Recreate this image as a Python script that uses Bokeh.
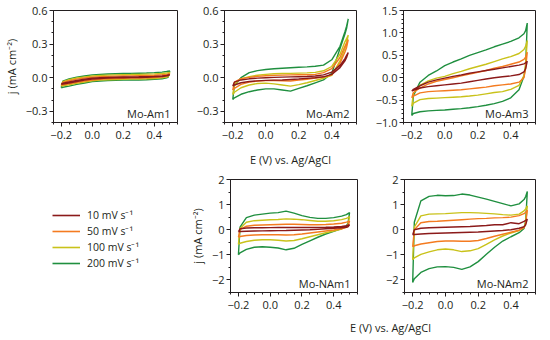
from bokeh.plotting import figure
from bokeh.layouts import column, row
from bokeh.models import Range1d, FixedTicker, CustomJSTickFormatter, Label, Legend, LegendItem
from bokeh.embed import file_html
from bokeh.resources import INLINE

# ---------------- data ----------------
E = [-0.2, -0.19, -0.15, -0.1, -0.05, 0.0, 0.05, 0.1, 0.15, 0.2, 0.25, 0.3, 0.35, 0.4, 0.45, 0.48, 0.49, 0.5]
rates = ["10 mV s\u207b\u00b9", "50 mV s\u207b\u00b9", "100 mV s\u207b\u00b9", "200 mV s\u207b\u00b9"]
colors = ["#8b1a1a", "#f47b20", "#c9c21a", "#1f8f3f"]

# Mo-Am1 (anodic "up" and cathodic "dn" branches on the E grid)
am1_10_up = [-0.058, -0.05, -0.038, -0.024, -0.013, -0.005, 0.0, 0.003, 0.005, 0.006, 0.007, 0.008, 0.01, 0.012, 0.016, 0.021, 0.024, 0.027]
am1_10_dn = [-0.058, -0.056, -0.048, -0.034, -0.022, -0.013, -0.007, -0.003, -0.001, 0.0, 0.001, 0.002, 0.004, 0.007, 0.011, 0.016, 0.019, 0.027]
am1_50_up = [-0.065, -0.042, -0.027, -0.013, -0.003, 0.004, 0.009, 0.012, 0.014, 0.015, 0.016, 0.018, 0.02, 0.022, 0.026, 0.03, 0.033, 0.036]
am1_50_dn = [-0.065, -0.063, -0.055, -0.042, -0.03, -0.02, -0.014, -0.01, -0.007, -0.005, -0.004, -0.003, -0.001, 0.002, 0.008, 0.014, 0.018, 0.036]
am1_100_up = [-0.075, -0.035, -0.018, -0.003, 0.007, 0.015, 0.02, 0.023, 0.025, 0.027, 0.028, 0.03, 0.032, 0.034, 0.038, 0.042, 0.045, 0.047]
am1_100_dn = [-0.075, -0.072, -0.063, -0.05, -0.038, -0.027, -0.022, -0.018, -0.016, -0.014, -0.013, -0.012, -0.01, -0.007, -0.002, 0.005, 0.01, 0.047]
am1_200_up = [-0.09, -0.03, -0.01, 0.005, 0.015, 0.025, 0.03, 0.033, 0.035, 0.037, 0.038, 0.04, 0.042, 0.045, 0.05, 0.055, 0.058, 0.06]
am1_200_dn = [-0.09, -0.085, -0.075, -0.06, -0.047, -0.035, -0.03, -0.026, -0.024, -0.022, -0.021, -0.02, -0.018, -0.015, -0.01, -0.002, 0.005, 0.06]

# Mo-Am2
am2_10_up = [-0.075, -0.04, -0.02, -0.01, -0.004, 0.0, 0.003, 0.005, 0.007, 0.009, 0.011, 0.015, 0.025, 0.05, 0.11, 0.17, 0.2, 0.225]
am2_10_dn = [-0.075, -0.065, -0.045, -0.034, -0.028, -0.024, -0.022, -0.02, -0.016, -0.012, -0.006, 0.0, 0.008, 0.03, 0.09, 0.15, 0.18, 0.225]
am2_50_up = [-0.11, -0.04, -0.008, 0.003, 0.012, 0.018, 0.021, 0.023, 0.025, 0.026, 0.027, 0.03, 0.045, 0.08, 0.18, 0.28, 0.31, 0.34]
am2_50_dn = [-0.11, -0.095, -0.06, -0.04, -0.03, -0.026, -0.025, -0.027, -0.03, -0.022, -0.014, -0.003, 0.005, 0.025, 0.13, 0.23, 0.27, 0.34]
am2_100_up = [-0.15, -0.06, -0.01, 0.01, 0.022, 0.03, 0.035, 0.037, 0.039, 0.041, 0.043, 0.048, 0.062, 0.1, 0.21, 0.32, 0.35, 0.38]
am2_100_dn = [-0.15, -0.13, -0.09, -0.065, -0.052, -0.048, -0.055, -0.065, -0.075, -0.062, -0.045, -0.025, -0.005, 0.02, 0.15, 0.26, 0.31, 0.38]
am2_200_up = [-0.195, -0.07, 0.0, 0.045, 0.063, 0.073, 0.08, 0.085, 0.089, 0.093, 0.097, 0.102, 0.112, 0.16, 0.28, 0.41, 0.46, 0.525]
am2_200_dn = [-0.195, -0.18, -0.148, -0.125, -0.11, -0.1, -0.1, -0.11, -0.12, -0.095, -0.072, -0.046, -0.02, 0.04, 0.26, 0.39, 0.44, 0.525]

# Mo-Am3
am3_10_up = [-0.3, -0.26, -0.18, -0.1, -0.05, -0.01, 0.03, 0.06, 0.1, 0.13, 0.16, 0.19, 0.22, 0.25, 0.28, 0.31, 0.33, 0.37]
am3_10_dn = [-0.3, -0.28, -0.23, -0.2, -0.18, -0.16, -0.14, -0.12, -0.09, -0.06, -0.03, 0.0, 0.02, 0.04, 0.07, 0.13, 0.2, 0.37]
am3_50_up = [-0.45, -0.33, -0.23, -0.14, -0.08, -0.04, 0.0, 0.04, 0.08, 0.12, 0.16, 0.21, 0.25, 0.3, 0.35, 0.41, 0.46, 0.57]
am3_50_dn = [-0.45, -0.41, -0.34, -0.31, -0.3, -0.29, -0.28, -0.27, -0.25, -0.23, -0.21, -0.18, -0.16, -0.14, -0.1, 0.0, 0.2, 0.57]
am3_100_up = [-0.64, -0.35, -0.17, -0.07, -0.01, 0.03, 0.09, 0.14, 0.2, 0.25, 0.3, 0.36, 0.42, 0.47, 0.54, 0.63, 0.7, 0.83]
am3_100_dn = [-0.64, -0.57, -0.49, -0.465, -0.455, -0.445, -0.435, -0.425, -0.41, -0.39, -0.36, -0.33, -0.31, -0.26, -0.17, 0.05, 0.3, 0.83]
am3_200_up = [-0.845, -0.4, -0.1, 0.05, 0.15, 0.27, 0.35, 0.42, 0.5, 0.56, 0.62, 0.69, 0.75, 0.81, 0.89, 0.98, 1.05, 1.22]
am3_200_dn = [-0.845, -0.8, -0.76, -0.74, -0.73, -0.72, -0.705, -0.69, -0.67, -0.645, -0.615, -0.58, -0.53, -0.45, -0.27, 0.03, 0.25, 1.22]

# Mo-NAm1
nam1_10_up = [-0.08, 0.04, 0.07, 0.08, 0.08, 0.085, 0.09, 0.09, 0.09, 0.09, 0.09, 0.095, 0.1, 0.11, 0.13, 0.16, 0.18, 0.2]
nam1_10_dn = [-0.08, -0.07, -0.06, -0.05, -0.045, -0.04, -0.035, -0.03, -0.02, -0.01, 0.0, 0.02, 0.04, 0.06, 0.08, 0.1, 0.12, 0.2]
nam1_50_up = [-0.3, 0.0, 0.14, 0.18, 0.19, 0.2, 0.21, 0.22, 0.22, 0.21, 0.2, 0.2, 0.21, 0.23, 0.26, 0.3, 0.32, 0.34]
nam1_50_dn = [-0.3, -0.27, -0.23, -0.21, -0.2, -0.2, -0.2, -0.21, -0.2, -0.17, -0.13, -0.09, -0.05, -0.01, 0.04, 0.1, 0.15, 0.34]
nam1_100_up = [-0.58, 0.05, 0.3, 0.36, 0.38, 0.4, 0.41, 0.43, 0.42, 0.4, 0.37, 0.34, 0.34, 0.36, 0.4, 0.45, 0.48, 0.52]
nam1_100_dn = [-0.58, -0.54, -0.47, -0.42, -0.4, -0.4, -0.42, -0.45, -0.43, -0.36, -0.28, -0.2, -0.12, -0.05, 0.03, 0.12, 0.2, 0.52]
nam1_200_up = [-1.0, 0.1, 0.48, 0.58, 0.62, 0.66, 0.68, 0.74, 0.66, 0.56, 0.49, 0.45, 0.45, 0.48, 0.54, 0.6, 0.64, 0.68]
nam1_200_dn = [-1.0, -0.92, -0.78, -0.7, -0.68, -0.7, -0.73, -0.8, -0.74, -0.58, -0.44, -0.3, -0.17, -0.06, 0.05, 0.15, 0.25, 0.68]

# Mo-NAm2
nam2_10_up = [-0.2, 0.0, 0.06, 0.08, 0.09, 0.1, 0.11, 0.12, 0.13, 0.15, 0.17, 0.2, 0.2, 0.28, 0.24, 0.33, 0.37, 0.42]
nam2_10_dn = [-0.2, -0.19, -0.17, -0.15, -0.14, -0.13, -0.12, -0.11, -0.1, -0.09, -0.07, -0.05, -0.03, 0.0, 0.06, 0.12, 0.2, 0.42]
nam2_50_up = [-0.68, 0.0, 0.28, 0.33, 0.34, 0.36, 0.38, 0.4, 0.42, 0.44, 0.45, 0.47, 0.48, 0.5, 0.56, 0.64, 0.7, 0.78]
nam2_50_dn = [-0.68, -0.64, -0.57, -0.52, -0.47, -0.45, -0.45, -0.46, -0.46, -0.43, -0.35, -0.26, -0.18, -0.1, -0.02, 0.08, 0.25, 0.78]
nam2_100_up = [-1.2, 0.1, 0.55, 0.62, 0.63, 0.64, 0.66, 0.68, 0.68, 0.67, 0.65, 0.63, 0.6, 0.58, 0.62, 0.75, 0.83, 0.95]
nam2_100_dn = [-1.2, -1.12, -0.98, -0.88, -0.8, -0.77, -0.8, -0.87, -0.84, -0.75, -0.58, -0.4, -0.25, -0.13, -0.03, 0.1, 0.3, 0.95]
nam2_200_up = [-2.1, 0.3, 1.15, 1.33, 1.37, 1.35, 1.36, 1.42, 1.38, 1.3, 1.22, 1.13, 1.04, 0.95, 1.03, 1.2, 1.32, 1.52]
nam2_200_dn = [-2.1, -1.95, -1.7, -1.55, -1.48, -1.47, -1.5, -1.58, -1.48, -1.27, -0.98, -0.7, -0.45, -0.28, -0.12, 0.05, 0.35, 1.52]

x_ticks = [-0.2, 0.0, 0.2, 0.4]
y_ticks_am12 = [-0.3, 0.0, 0.3, 0.6]
y_ticks_am3 = [-1.0, -0.5, 0.0, 0.5, 1.0, 1.5]
y_ticks_nam = [-2, -1, 0, 1, 2]
x_title = "E (V) vs. Ag/AgCl"
y_title = "j (mA cm\u207b\u00b2)"

# ---------------- styling helpers ----------------
FONT = "Open Sans"
FS = "11px"
INK = "#231f20"


def minor_list(start, end, step):
    n = int(round((end - start) / step))
    return [round(start + i * step, 4) for i in range(n + 1)]


def fmt(dec):
    return CustomJSTickFormatter(
        code="return (tick < -1e-9 ? '\u2212' : '') + Math.abs(tick).toFixed(%d);" % dec)


def panel(name, series, y0, y1, yt, ystep, dec, w, h, bl, br, bt, bb, ylabel=None, xlabel=None):
    p = figure(width=w, height=h, x_range=Range1d(-0.25, 0.55), y_range=Range1d(y0, y1),
               output_backend="svg", toolbar_location=None,
               min_border_left=bl, min_border_right=br, min_border_top=bt, min_border_bottom=bb)
    for (up, dn), col in reversed(list(zip(series, colors))):
        p.line(E + E[::-1], up + dn[::-1], line_color=col, line_width=1.4)
    p.grid.visible = False
    p.outline_line_color = INK
    p.outline_line_alpha = 1
    p.outline_line_width = 1
    p.xaxis.ticker = FixedTicker(ticks=x_ticks, minor_ticks=minor_list(-0.25, 0.55, 0.05))
    p.yaxis.ticker = FixedTicker(ticks=yt, minor_ticks=minor_list(y0, y1, ystep))
    p.xaxis.formatter = fmt(1)
    p.yaxis.formatter = fmt(dec)
    for ax in (p.xaxis[0], p.yaxis[0]):
        ax.axis_line_color = INK
        ax.major_tick_line_color = INK
        ax.minor_tick_line_color = INK
        ax.major_tick_out = 4
        ax.major_tick_in = 0
        ax.minor_tick_out = 2
        ax.minor_tick_in = 0
        ax.major_label_text_font = FONT
        ax.major_label_text_font_size = FS
        ax.major_label_text_color = INK
        ax.axis_label_text_font = FONT
        ax.axis_label_text_font_size = FS
        ax.axis_label_text_font_style = "normal"
        ax.axis_label_text_color = INK
    p.yaxis.major_label_standoff = 2
    p.xaxis.major_label_standoff = 4
    if ylabel:
        p.yaxis.axis_label = ylabel
        p.yaxis.axis_label_standoff = 4
    if xlabel:
        p.xaxis.axis_label = xlabel
        p.xaxis.axis_label_standoff = 10
    p.add_layout(Label(x=0.55, y=y0, x_offset=-7, y_offset=9, text=name,
                       text_align="right", text_baseline="alphabetic",
                       text_font=FONT, text_font_size=FS, text_color=INK))
    return p


TOP_H, BOT_H = 170, 148
f1 = panel("Mo-Am1", [(am1_10_up, am1_10_dn), (am1_50_up, am1_50_dn), (am1_100_up, am1_100_dn), (am1_200_up, am1_200_dn)],
           -0.4, 0.6, y_ticks_am12, 0.1, 1, 192, TOP_H, 48, 15, 10, 48, ylabel=y_title)
f2 = panel("Mo-Am2", [(am2_10_up, am2_10_dn), (am2_50_up, am2_50_dn), (am2_100_up, am2_100_dn), (am2_200_up, am2_200_dn)],
           -0.4, 0.6, y_ticks_am12, 0.1, 1, 180, TOP_H, 32, 16, 10, 48, xlabel=x_title)
f3 = panel("Mo-Am3", [(am3_10_up, am3_10_dn), (am3_50_up, am3_50_dn), (am3_100_up, am3_100_dn), (am3_200_up, am3_200_dn)],
           -1.0, 1.5, y_ticks_am3, 0.1, 1, 168, TOP_H, 31, 5, 10, 48)
f5 = panel("Mo-NAm1", [(nam1_10_up, nam1_10_dn), (nam1_50_up, nam1_50_dn), (nam1_100_up, nam1_100_dn), (nam1_200_up, nam1_200_dn)],
           -2.5, 2.0, y_ticks_nam, 0.5, 0, 186, BOT_H, 39, 15, 9, 26, ylabel=y_title)
f6 = panel("Mo-NAm2", [(nam2_10_up, nam2_10_dn), (nam2_50_up, nam2_50_dn), (nam2_100_up, nam2_100_dn), (nam2_200_up, nam2_200_dn)],
           -2.5, 2.0, y_ticks_nam, 0.5, 0, 168, BOT_H, 32, 5, 9, 26)

# legend cell (its sample lines lie outside its visible range; only the legend shows)
lg = figure(width=186, height=BOT_H, x_range=Range1d(10, 11), y_range=Range1d(10, 11),
            output_backend="svg", toolbar_location=None, x_axis_location=None, y_axis_location=None,
            min_border=0, outline_line_color=None)
lg.grid.visible = False
items = []
for lab, col, up in zip(rates, colors, [am1_10_up, am1_50_up, am1_100_up, am1_200_up]):
    r = lg.line(x=E, y=up, line_color=col, line_width=1.6)
    items.append(LegendItem(label=lab, renderers=[r]))
leg = Legend(items=items, location=(52, 21), padding=0, margin=0, spacing=0,
             border_line_color=None, background_fill_alpha=0,
             glyph_width=28, glyph_height=16, label_height=16, label_standoff=7,
             label_text_font=FONT, label_text_font_size="10.5px", label_text_color=INK)
lg.add_layout(leg)

# bottom common x title
tf = figure(width=540, height=18, x_range=Range1d(0, 540), y_range=Range1d(0, 18),
            output_backend="svg", toolbar_location=None, x_axis_location=None, y_axis_location=None,
            min_border=0, outline_line_color=None)
tf.grid.visible = False
tf.add_layout(Label(x=390, y=9, text=x_title, text_align="center", text_baseline="middle",
                    text_font=FONT, text_font_size=FS, text_color=INK))

layout = column(row(f1, f2, f3), row(lg, f5, f6), tf)
open("out.html", "w").write(file_html(layout, INLINE))
